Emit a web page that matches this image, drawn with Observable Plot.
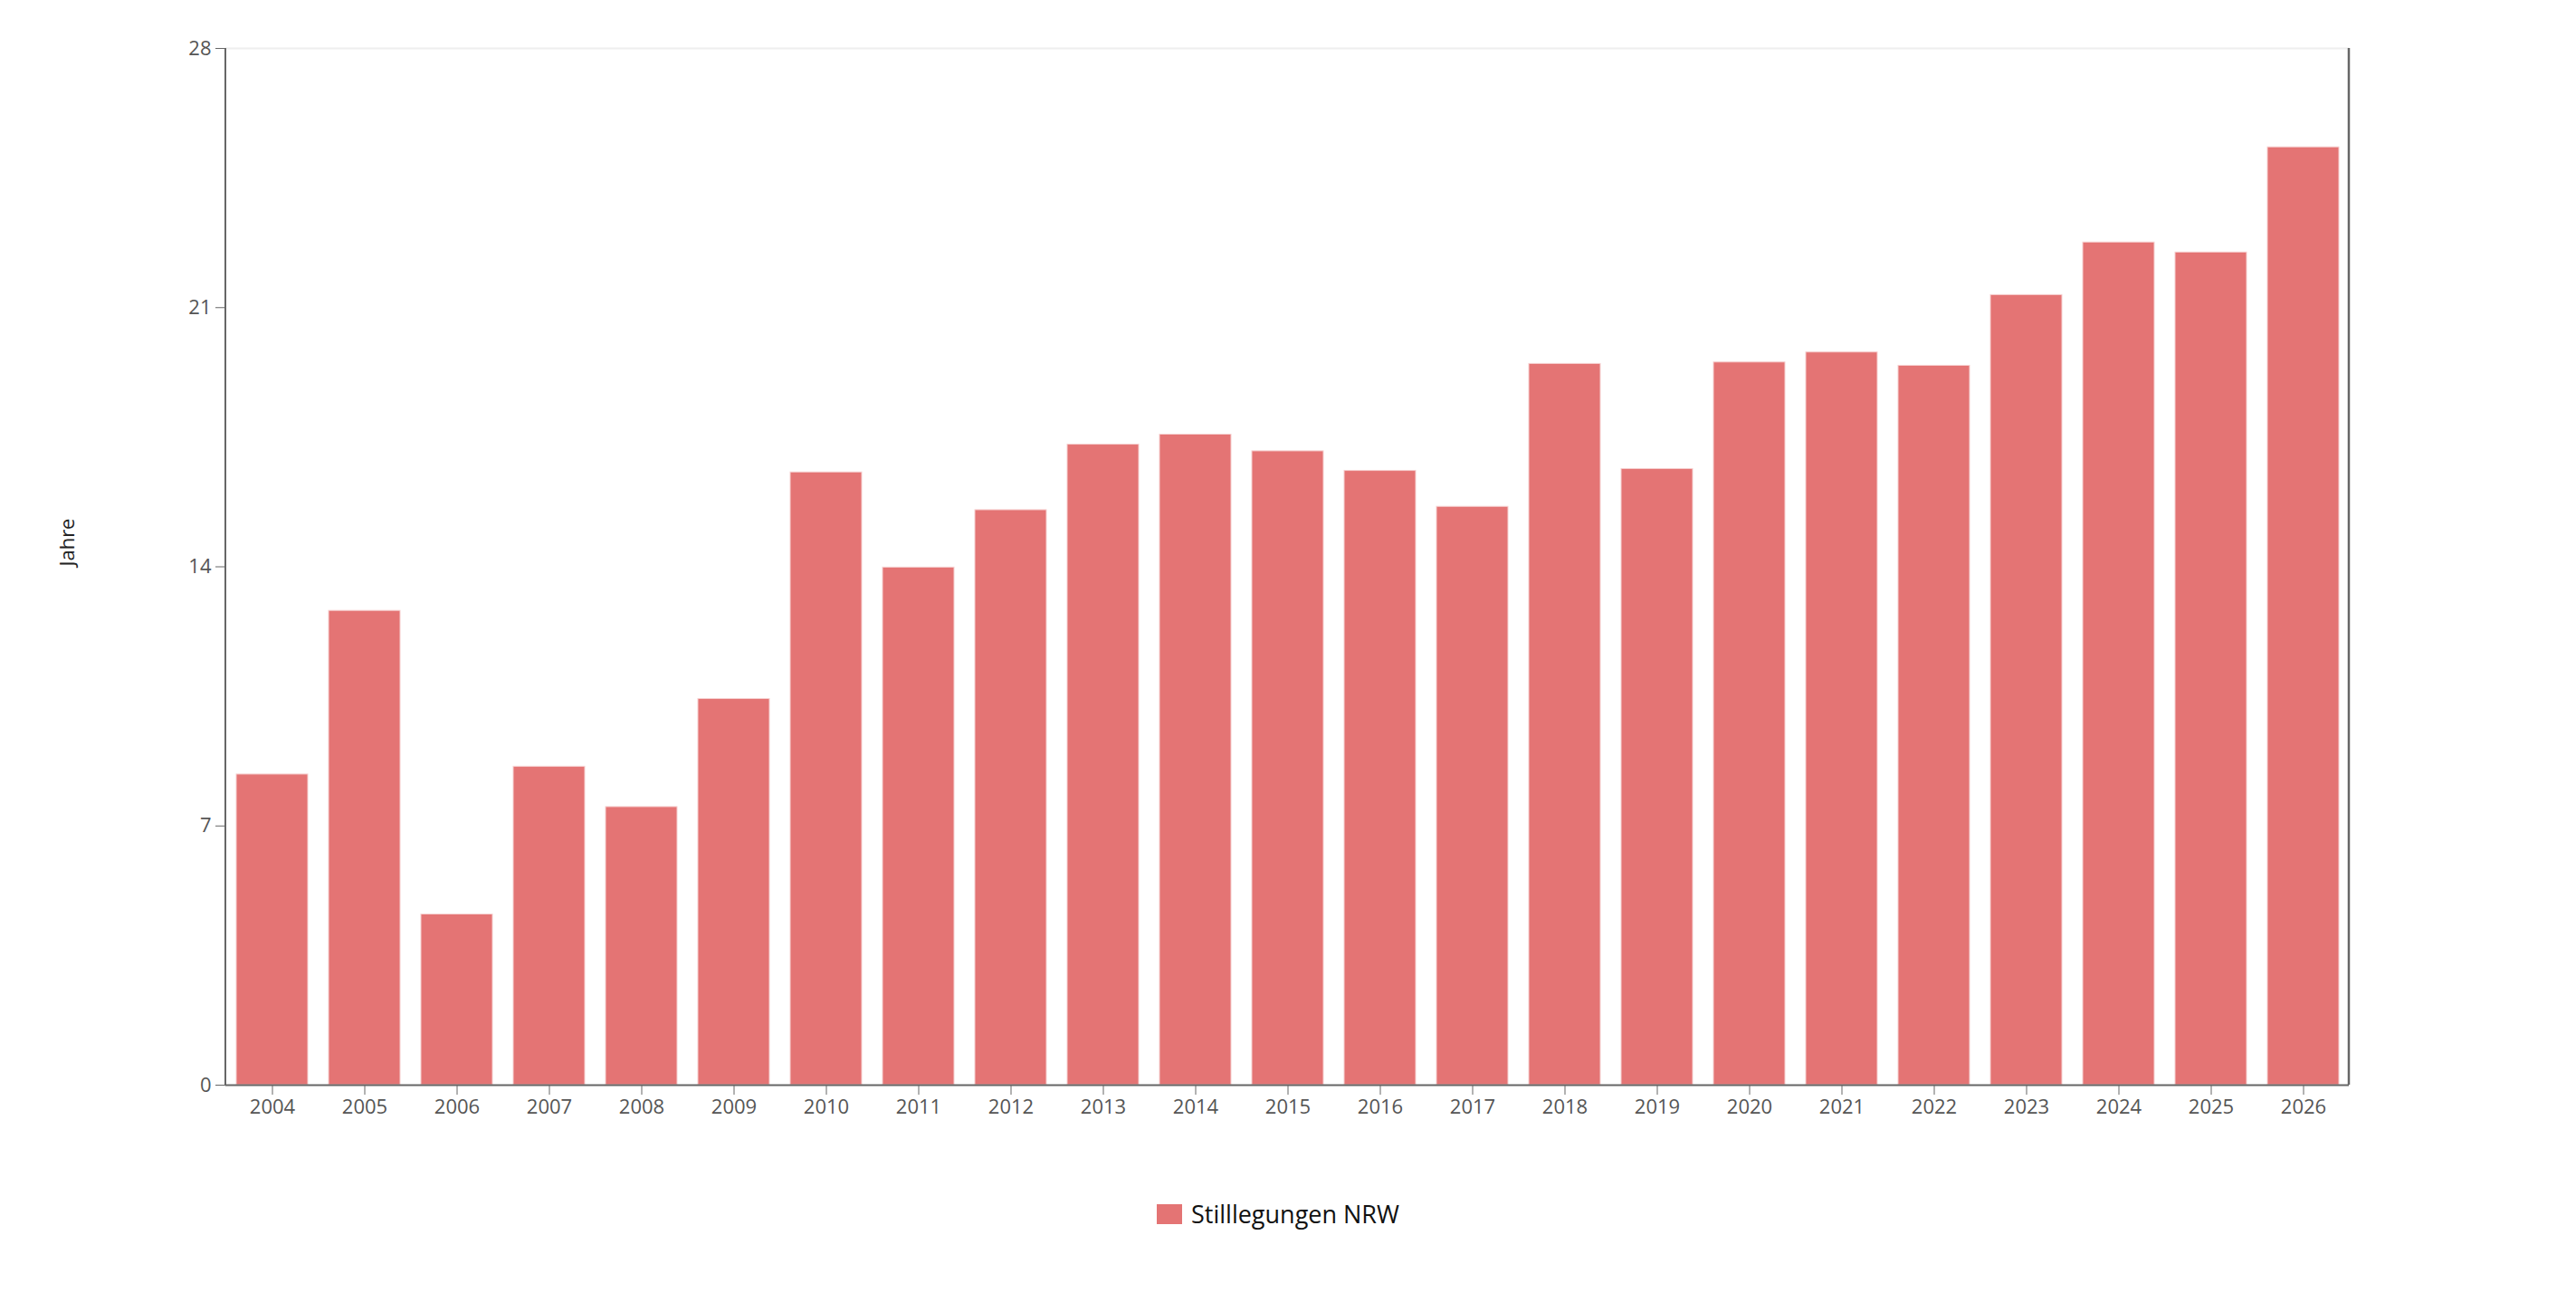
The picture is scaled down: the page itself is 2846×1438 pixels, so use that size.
<!DOCTYPE html>
<html>
<head>
<meta charset="utf-8">
<script src="https://cdn.jsdelivr.net/npm/d3@7"></script>
<script src="https://cdn.jsdelivr.net/npm/@observablehq/plot@0.6"></script>
<style>
  html, body { margin: 0; padding: 0; background: #fff; }
  body { font-family: "Open Sans", "Noto Sans", sans-serif; }
  #wrap { position: relative; width: 2846px; height: 1438px; overflow: hidden; }
  #chart { position: absolute; left: 0; top: 0; }
  #ylabel { position: absolute; left: 73px; top: 599px; transform: translate(-50%, -50%) rotate(-90deg);
            font-size: 22px; color: #222; white-space: nowrap; }
  #legend { position: absolute; left: 1278px; top: 1322px; display: flex; align-items: center;
            font-size: 27px; color: #111; white-space: nowrap; }
  #legend .sw { display: inline-block; width: 28px; height: 22px; margin-right: 10px; }
</style>
</head>
<body>
<div id="wrap">
  <div id="chart"></div>
  <div id="ylabel">Jahre</div>
  <div id="legend"></div>
</div>
<script>
const years = ["2004","2005","2006","2007","2008","2009","2010","2011","2012","2013","2014","2015","2016","2017","2018","2019","2020","2021","2022","2023","2024","2025","2026"];
const values = [8.39, 12.81, 4.61, 8.6, 7.51, 10.43, 16.55, 13.98, 15.53, 17.3, 17.57, 17.12, 16.59, 15.62, 19.48, 16.64, 19.52, 19.79, 19.43, 21.34, 22.76, 22.49, 25.33];
const yTicks = [0, 7, 14, 21, 28];
const seriesName = "Stilllegungen NRW";
const barColor = "#e47474";

const data = years.map((y, i) => ({year: y, value: values[i]}));

const frameLines = (index, scales, values, dim) => {
  const g = d3.create("svg:g");
  const x0 = dim.marginLeft, x1 = dim.width - dim.marginRight;
  const y0 = dim.marginTop, y1 = dim.height - dim.marginBottom;
  g.append("line").attr("x1", x0).attr("x2", x0).attr("y1", y0).attr("y2", y1)
    .attr("stroke", "#666").attr("stroke-width", 2);
  g.append("line").attr("x1", x1).attr("x2", x1).attr("y1", y0).attr("y2", y1)
    .attr("stroke", "#666").attr("stroke-width", 2.5);
  return g.node();
};

const chart = Plot.plot({
  width: 2846,
  height: 1262,
  marginTop: 53,
  marginBottom: 64,
  marginLeft: 249,
  marginRight: 251,
  style: {fontFamily: "'Open Sans', 'Noto Sans', sans-serif", fontSize: "22px", color: "#555", background: "#fff"},
  x: {domain: years, paddingInner: 0.23, paddingOuter: 0.115},
  y: {domain: [0, 28]},
  marks: [
    Plot.ruleY([28], {stroke: "#eeeeee", strokeWidth: 2}),
    Plot.barY(data, {x: "year", y: "value", fill: barColor, stroke: "#f6d0d0", strokeWidth: 1}),
    Plot.ruleY([0], {stroke: "#666", strokeWidth: 2}),
    Plot.axisY({ticks: yTicks, tickSize: 11, tickPadding: 5, fontSize: 22, stroke: "#666", fill: "#555", label: null}),
    Plot.axisX({tickSize: 11, tickPadding: 5, fontSize: 22, stroke: "#666", fill: "#555", label: null}),
    frameLines
  ]
});
document.getElementById("chart").appendChild(chart);

const lg = document.getElementById("legend");
const sw = document.createElement("span");
sw.className = "sw";
sw.style.background = barColor;
lg.appendChild(sw);
lg.appendChild(document.createTextNode(seriesName));
</script>
</body>
</html>
